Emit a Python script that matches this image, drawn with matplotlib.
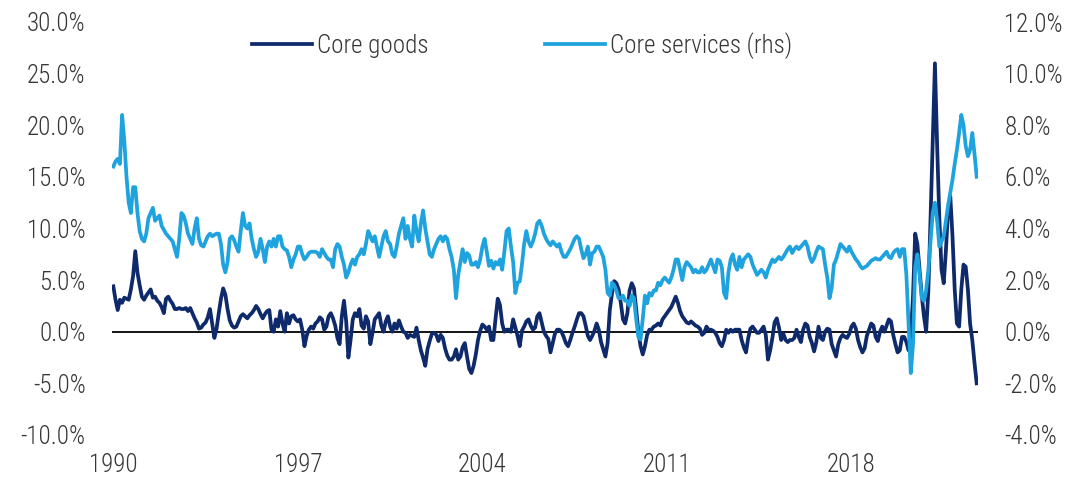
import numpy as np
import matplotlib
matplotlib.use("Agg")
import matplotlib.pyplot as plt
from matplotlib.ticker import FixedLocator, FuncFormatter

plt.rcParams['font.family'] = ['Roboto Condensed', 'DejaVu Sans']
plt.rcParams['font.weight'] = 'light'

# Monthly annualised rates, Jan 1990 - Oct 2022 (one row per year)
core_goods = [
    4.4, 3.1, 2.1, 3.1, 2.8, 3.3, 3.2, 3.1, 4.1, 5.4, 7.8, 5.7,
    4.5, 3.4, 3.1, 3.5, 3.8, 4.1, 3.3, 3.4, 3.0, 2.8, 2.4, 1.8,
    3.2, 3.4, 3.0, 2.7, 2.2, 2.2, 2.3, 2.2, 2.2, 2.3, 2.0, 2.3,
    1.8, 1.3, 0.9, 0.3, 0.4, 0.7, 0.9, 1.4, 2.2, 0.8, -0.6, 0.3,
    1.8, 3.2, 4.2, 3.6, 2.2, 1.1, 0.6, 0.4, 0.5, 1.0, 1.5, 1.7,
    1.5, 1.3, 1.6, 1.8, 2.1, 2.5, 2.2, 1.7, 1.3, 1.7, 2.0, 2.1,
    0.2, 0.0, 1.2, 0.5, 2.0, 0.8, 0.0, 1.8, 0.8, 1.5, 1.6, 1.2,
    1.0, 1.2, 0.2, -1.4, -0.4, 0.2, 0.5, 0.3, 0.8, 1.0, 1.4, 1.2,
    0.2, 0.5, 1.5, 1.8, 1.3, 0.6, -0.6, -1.2, 1.5, 3.0, 1.0, -2.5,
    -0.8, 1.2, 1.8, 1.5, 2.2, 0.6, 0.3, 1.5, 1.0, -1.2, -0.1, 1.2,
    1.5, 1.8, 0.6, 0.0, 1.0, 1.5, 0.5, 0.0, 0.8, 0.3, 1.1, 0.5,
    0.0, -0.1, -0.6, -0.3, -0.4, -0.5, 0.4, -0.8, -1.8, -2.5, -3.3, -1.7,
    -0.9, -0.2, -0.1, -0.3, -0.9, -0.3, -0.6, -1.6, -2.3, -2.7, -2.7, -2.4,
    -1.7, -2.7, -2.4, -1.5, -1.1, -2.4, -3.6, -4.0, -3.3, -2.2, -0.8, 0.1,
    0.7, 0.5, 0.2, 0.5, -0.8, -0.8, 1.3, 3.2, 2.6, 0.8, 0.0, 0.2,
    0.2, 0.0, 1.2, 0.4, -0.4, -1.4, 0.1, 0.5, 1.0, 1.2, 0.6, 0.2,
    0.4, 1.5, 1.8, 0.9, 0.0, -0.4, -0.7, -2.0, -1.1, -0.2, 0.2, 0.2,
    0.0, -0.5, -1.1, -1.4, -0.8, -0.1, 0.5, 1.2, 1.8, 1.8, 1.5, 0.6,
    -0.4, -0.8, -0.4, 0.1, 0.8, 0.2, -1.0, -1.7, -2.4, -1.1, 2.1, 3.7,
    4.9, 4.7, 4.1, 2.8, 1.2, 0.8, 1.8, 4.0, 4.7, 4.2, 2.2, 0.0,
    -1.4, -2.2, -1.4, -0.3, 0.2, 0.2, 0.5, 0.6, 0.8, 0.6, 1.2, 1.5,
    1.8, 2.1, 2.4, 2.9, 3.4, 2.8, 2.0, 1.5, 1.2, 0.9, 0.8, 1.0,
    0.8, 0.6, 0.5, 0.3, -0.3, -0.1, 0.5, 0.2, 0.2, 0.1, -0.1, -0.5,
    -1.1, -1.4, -0.8, 0.2, -0.1, 0.2, 0.0, 0.2, 0.2, 0.2, -0.8, -1.5,
    -2.0, -0.6, 0.3, 0.5, 0.2, -0.1, -0.1, 0.2, 0.5, -0.3, -2.7, -1.8,
    -0.6, 0.9, 1.3, 0.4, -0.8, -0.2, -0.8, -1.0, -0.8, -0.8, -0.6, 0.2,
    -0.5, -1.0, 0.2, 0.8, 0.6, -0.5, -1.1, -1.9, -1.0, 0.5, -0.6, -0.8,
    0.0, 0.3, 0.2, -1.2, -1.8, -2.4, -1.2, -0.6, -0.3, -0.5, -0.6, -0.2,
    0.5, 0.8, 0.3, -0.8, -1.5, -2.0, -1.6, -0.4, 0.2, 0.8, 0.6, -0.5,
    -0.9, 0.0, 0.5, 0.0, 0.6, 1.2, 1.0, -0.3, -1.2, -2.0, -1.8, -0.5,
    -0.5, -1.0, -1.8, -0.5, 3.4, 9.5, 8.5, 6.0, 3.5, 1.5, 0.0, 4.0,
    11.0, 18.5, 26.0, 18.0, 11.0, 6.0, 4.7, 7.9, 11.8, 13.1, 9.2, 4.1,
    0.8, 0.5, 4.1, 6.5, 6.3, 4.1, 0.8, -0.8, -3.0, -5.0,
]

core_services = [
    6.4, 6.6, 6.7, 6.5, 8.4, 7.4, 6.0, 5.0, 4.6, 5.6, 5.6, 4.6,
    3.9, 3.6, 3.5, 3.8, 4.4, 4.6, 4.8, 4.3, 4.4, 4.5, 4.1, 3.95,
    3.8, 3.7, 3.6, 3.5, 3.2, 2.9, 3.6, 4.6, 4.5, 4.2, 3.8, 3.6,
    3.4, 4.0, 4.4, 3.6, 3.35, 3.3, 3.5, 3.7, 3.8, 3.7, 3.75, 3.8,
    3.8, 3.4, 2.6, 2.3, 2.7, 3.6, 3.7, 3.55, 3.3, 3.1, 3.9, 4.6,
    4.1, 4.0, 4.2, 3.6, 3.2, 2.9, 3.1, 3.6, 3.2, 2.7, 3.3, 3.5,
    3.3, 3.6, 3.3, 3.7, 3.7, 3.3, 3.2, 3.15, 2.9, 2.5, 2.8, 3.0,
    3.3, 3.3, 3.0, 2.8, 2.9, 3.05, 3.1, 3.1, 3.1, 3.05, 2.9, 3.2,
    3.05, 2.9, 2.8, 2.8, 2.5, 3.2, 3.4, 3.3, 2.9, 2.6, 2.1, 2.3,
    2.6, 2.8, 2.6, 2.9, 3.0, 3.2, 3.0, 3.4, 3.9, 3.7, 3.5, 3.7,
    3.3, 2.9, 3.3, 3.7, 3.9, 3.5, 3.4, 3.0, 2.9, 3.3, 3.8, 4.1,
    4.4, 3.6, 4.1, 3.6, 3.3, 4.5, 3.9, 3.5, 4.2, 4.7, 4.0, 3.5,
    3.0, 2.9, 3.2, 3.4, 3.6, 3.7, 3.5, 3.7, 3.6, 3.2, 2.9, 2.4,
    1.3, 2.2, 2.7, 3.2, 2.7, 3.05, 2.95, 2.6, 2.6, 2.7, 2.5, 2.8,
    3.3, 3.6, 3.1, 2.55, 2.75, 2.45, 2.7, 2.6, 2.8, 2.4, 3.1, 3.9,
    4.0, 3.3, 2.7, 1.5, 1.9, 1.95, 2.6, 3.4, 3.9, 3.5, 3.3, 3.5,
    3.8, 4.2, 4.3, 4.1, 3.8, 3.6, 3.45, 3.35, 3.5, 3.4, 3.3, 3.4,
    3.1, 2.9, 2.9, 3.05, 3.2, 3.4, 3.6, 3.7, 3.6, 3.2, 2.85, 3.0,
    3.3, 2.6, 3.05, 3.1, 3.3, 3.3, 3.1, 2.9, 2.4, 1.5, 1.4, 1.9,
    1.8, 1.6, 1.3, 1.3, 1.4, 1.2, 1.2, 1.0, 1.4, 1.3, 0.5, -0.2,
    -0.3, 0.5, 1.4, 1.1, 1.5, 1.4, 1.6, 1.6, 1.9, 1.8, 2.0, 2.1,
    2.0, 1.9, 2.1, 2.4, 2.8, 2.8, 2.4, 2.0, 2.5, 2.7, 2.6, 2.5,
    2.3, 2.4, 2.3, 2.3, 2.5, 2.3, 2.4, 2.6, 2.8, 2.55, 2.3, 2.8,
    2.75, 2.5, 1.5, 1.3, 2.3, 2.8, 3.0, 2.6, 2.4, 2.9, 2.5, 2.8,
    2.9, 3.0, 2.9, 2.6, 2.4, 2.2, 2.3, 2.4, 2.3, 2.1, 2.4, 2.6,
    2.8, 2.7, 2.8, 2.9, 2.8, 2.9, 3.05, 3.2, 3.3, 3.05, 3.2, 3.3,
    3.2, 3.3, 3.4, 3.5, 3.3, 2.9, 2.7, 2.85, 3.1, 3.3, 3.25, 3.2,
    2.6, 2.1, 1.3, 1.7, 2.6, 2.8, 3.1, 3.4, 3.3, 3.2, 3.1, 3.3,
    3.1, 2.95, 2.8, 2.7, 2.55, 2.45, 2.5, 2.55, 2.65, 2.75, 2.8, 2.85,
    2.8, 2.8, 2.9, 3.0, 3.1, 2.9, 2.85, 3.05, 3.15, 3.2, 2.9, 3.2,
    3.2, 2.2, 0.3, -1.6, -0.5, 2.5, 3.0, 2.2, 1.3, 1.2, 1.6, 2.4,
    3.5, 4.6, 5.0, 4.3, 3.3, 3.5, 3.7, 4.3, 4.9, 5.4, 5.9, 6.5,
    7.05, 7.7, 8.4, 8.0, 7.2, 6.8, 7.05, 7.7, 6.9, 6.0,
]

series_labels = ["Core goods", "Core services (rhs)"]
year_ticks = [1990, 1997, 2004, 2011, 2018]
left_ticks = [-10, -5, 0, 5, 10, 15, 20, 25, 30]
right_ticks = [-4, -2, 0, 2, 4, 6, 8, 10, 12]

DARK = "#0e2a6b"
LIGHT = "#1fa3de"
TEXT = "#363636"
FS = 18

months = 1990 + np.arange(len(core_goods)) / 12.0

fig = plt.figure(figsize=(10.69, 4.83), dpi=100)
ax = fig.add_axes([112 / 1069, 48 / 483, 866 / 1069, 413 / 483])
ax2 = ax.twinx()

ax.axhline(0, color="black", lw=1.3, zorder=1)
l1, = ax.plot(months, core_goods, color=DARK, lw=2.7, solid_joinstyle="round", zorder=2)
l2, = ax2.plot(months, core_services, color=LIGHT, lw=2.7, solid_joinstyle="round", zorder=2)

ax.set_xlim(months[0] - 0.05, months[-1] + 0.05)
ax.set_ylim(-10, 30)
ax2.set_ylim(-4, 12)

ax.xaxis.set_major_locator(FixedLocator(year_ticks))
ax.xaxis.set_major_formatter(FuncFormatter(lambda v, p: f"{int(round(v))}"))
ax.yaxis.set_major_locator(FixedLocator(left_ticks))
ax.yaxis.set_major_formatter(FuncFormatter(lambda v, p: f"{v:.1f}%"))
ax2.yaxis.set_major_locator(FixedLocator(right_ticks))
ax2.yaxis.set_major_formatter(FuncFormatter(lambda v, p: f"{v:.1f}%"))

for a in (ax, ax2):
    for s in a.spines.values():
        s.set_visible(False)
    a.tick_params(length=0, labelsize=FS, colors=TEXT)
ax.tick_params(axis="y", pad=19)
ax2.tick_params(axis="y", pad=19)
ax.tick_params(axis="x", pad=13)

legend_y = 1 - 45.5 / 483
for handle, label, x0 in ((l1, series_labels[0], 252), (l2, series_labels[1], 545)):
    fig.legend([handle], [label], loc="center left",
               bbox_to_anchor=(x0 / 1069, legend_y), frameon=False,
               fontsize=FS, handlelength=2.4, handletextpad=0.2,
               borderpad=0, borderaxespad=0, labelcolor=TEXT)

fig.savefig("out.png", dpi=100)
